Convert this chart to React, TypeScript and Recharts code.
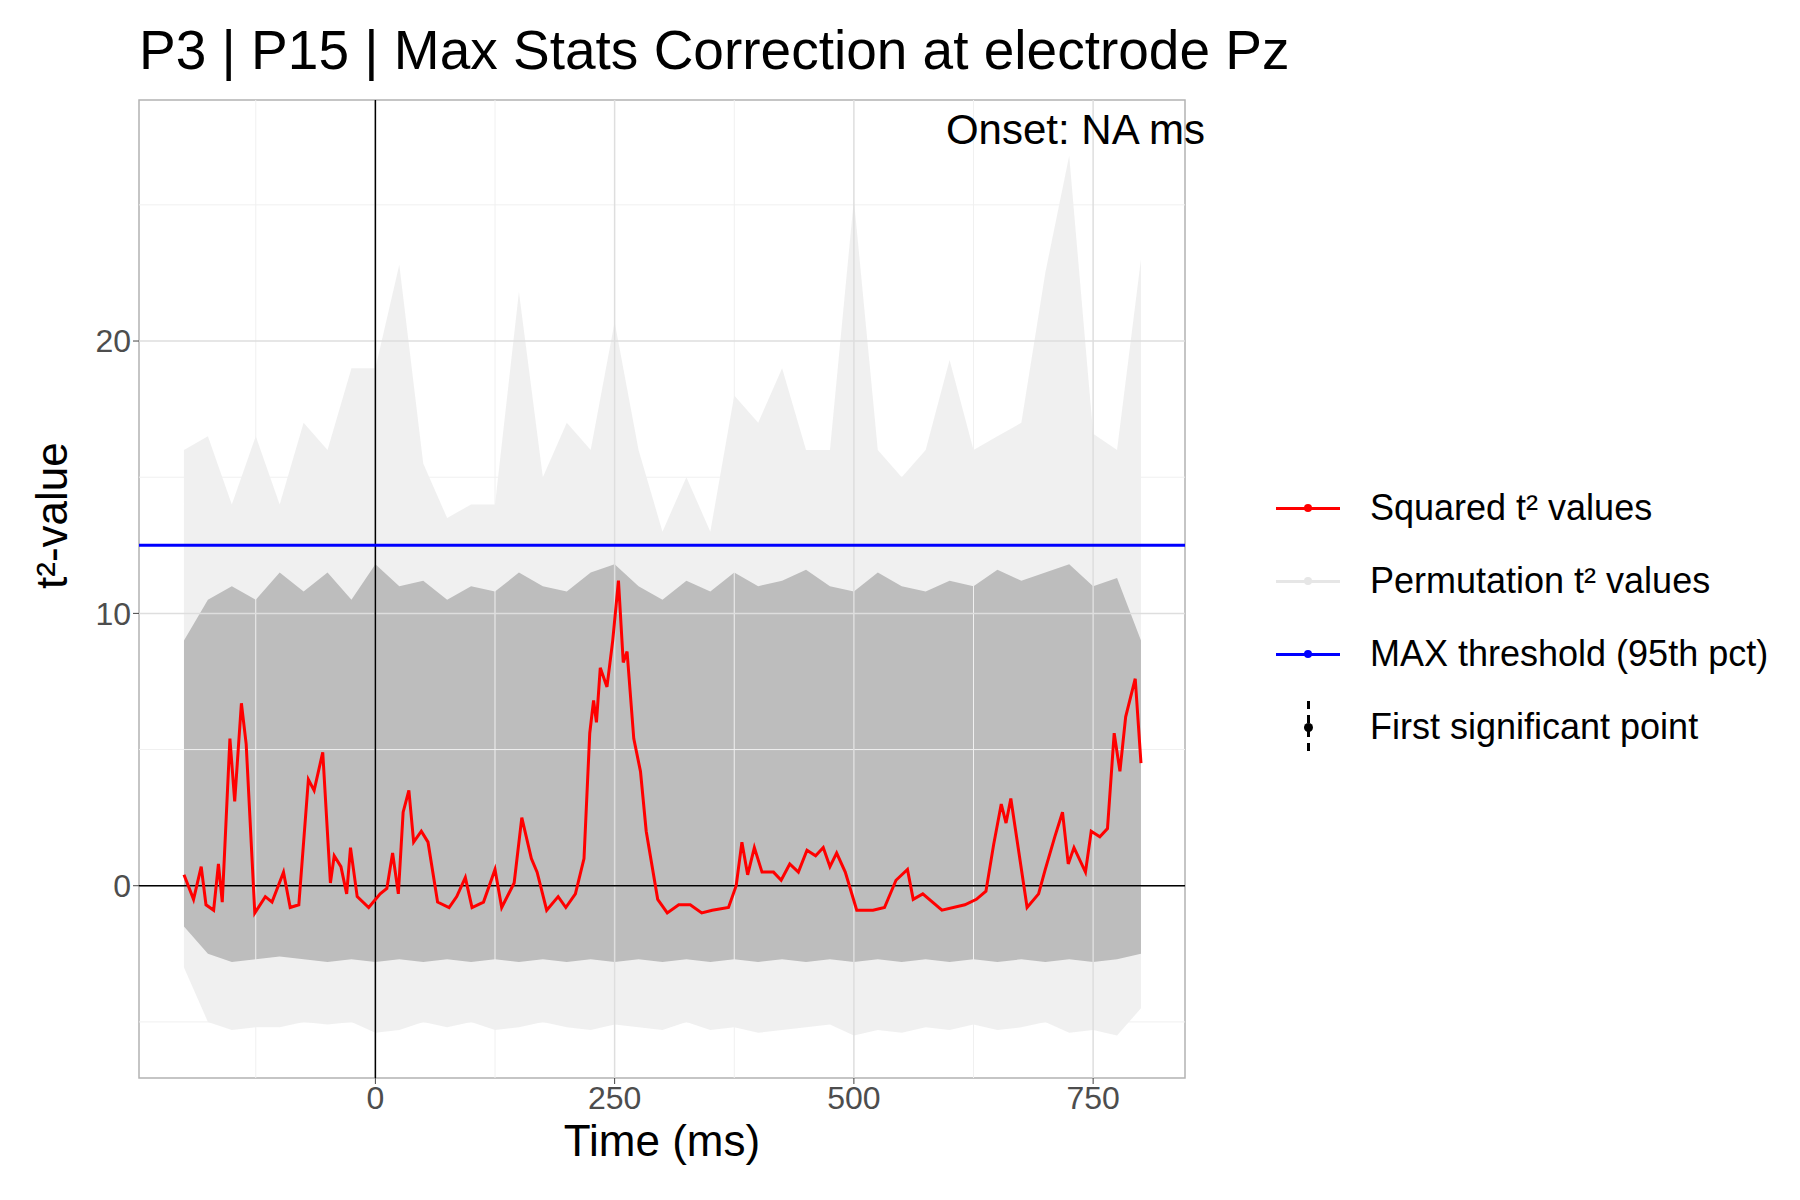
import React from 'react';
import {
  ComposedChart,
  XAxis,
  YAxis,
  Line,
  Area,
  ReferenceLine,
  ReferenceArea,
  Label
} from 'recharts';

// observed squared t values (time in ms)
const redTimes = [-200, -190, -182, -177, -169, -164, -160, -152, -147, -140, -135, -126, -115, -108, -96, -89, -80, -70, -64, -55, -47, -43, -36, -30, -26, -19, -7, 5, 12, 18, 24, 29, 35, 40, 48, 55, 65, 77, 85, 94, 101, 113, 125, 132, 145, 153, 163, 169, 179, 191, 199, 209, 218, 224, 228, 231, 235, 242, 248, 254, 259, 263, 270, 277, 283, 295, 305, 317, 329, 341, 352, 369, 377, 383, 389, 396, 404, 416, 424, 433, 442, 451, 460, 468, 475, 482, 491, 503, 520, 532, 544, 556, 562, 572, 592, 616, 628, 638, 646, 654, 659, 664, 681, 693, 700, 710, 718, 724, 730, 742, 748, 757, 765, 772, 778, 784, 794, 800];
const redValues = [0.4, -0.5, 0.7, -0.7, -0.9, 0.8, -0.6, 5.4, 3.1, 6.7, 5.2, -1, -0.4, -0.6, 0.5, -0.8, -0.7, 3.9, 3.5, 4.9, 0.1, 1.1, 0.7, -0.3, 1.4, -0.4, -0.8, -0.3, -0.1, 1.2, -0.3, 2.7, 3.5, 1.6, 2.0, 1.6, -0.6, -0.8, -0.4, 0.3, -0.8, -0.6, 0.6, -0.8, 0.1, 2.5, 1.0, 0.5, -0.9, -0.4, -0.8, -0.3, 1.0, 5.6, 6.8, 6.0, 8.0, 7.3, 9.0, 11.2, 8.2, 8.6, 5.4, 4.2, 2.0, -0.5, -1.0, -0.7, -0.7, -1.0, -0.9, -0.8, 0, 1.6, 0.4, 1.4, 0.5, 0.5, 0.2, 0.8, 0.5, 1.3, 1.1, 1.4, 0.7, 1.2, 0.5, -0.9, -0.9, -0.8, 0.2, 0.6, -0.5, -0.3, -0.9, -0.7, -0.5, -0.2, 1.5, 3.0, 2.3, 3.2, -0.8, -0.3, 0.6, 1.8, 2.7, 0.8, 1.4, 0.5, 2.0, 1.8, 2.1, 5.6, 4.2, 6.2, 7.6, 4.5];

// permutation envelope (faint outer and dense inner)
const bandTimes = [-200, -175, -150, -125, -100, -75, -50, -25, 0, 25, 50, 75, 100, 125, 150, 175, 200, 225, 250, 275, 300, 325, 350, 375, 400, 425, 450, 475, 500, 525, 550, 575, 600, 625, 650, 675, 700, 725, 750, 775, 800];
const outerLow = [-3, -5, -5.3, -5.2, -5.2, -5, -5.1, -5, -5.4, -5.3, -5, -5.2, -5, -5.3, -5.2, -5, -5.2, -5.3, -5.1, -5.2, -5.3, -5, -5.3, -5.2, -5.4, -5.3, -5.2, -5.1, -5.5, -5.3, -5.4, -5.2, -5.3, -5.1, -5.3, -5.2, -5, -5.4, -5.3, -5.5, -4.5];
const outerHigh = [16, 16.5, 14, 16.5, 14, 17, 16, 19, 19, 22.8, 15.5, 13.5, 14, 14, 21.8, 15, 17, 16, 20.7, 16, 13, 15, 13, 18, 17, 19, 16, 16, 25.2, 16, 15, 16, 19.3, 16, 16.5, 17, 22.5, 26.8, 16.6, 16, 23];
const innerLow = [-1.5, -2.5, -2.8, -2.7, -2.6, -2.7, -2.8, -2.7, -2.8, -2.7, -2.8, -2.7, -2.8, -2.7, -2.8, -2.7, -2.8, -2.7, -2.8, -2.7, -2.8, -2.7, -2.8, -2.7, -2.8, -2.7, -2.8, -2.7, -2.8, -2.7, -2.8, -2.7, -2.8, -2.7, -2.8, -2.7, -2.8, -2.7, -2.8, -2.7, -2.5];
const innerHigh = [9, 10.5, 11, 10.5, 11.5, 10.8, 11.5, 10.5, 11.8, 11, 11.2, 10.5, 11, 10.8, 11.5, 11, 10.8, 11.5, 11.8, 11, 10.5, 11.2, 10.8, 11.5, 11, 11.2, 11.6, 11, 10.8, 11.5, 11, 10.8, 11.2, 11, 11.6, 11.2, 11.5, 11.8, 11, 11.3, 9];

const threshold = 12.5;
const xMajor = [0, 250, 500, 750];
const xMinor = [-125, 125, 375, 625];
const yMajor = [0, 10, 20];
const yMinor = [-5, 5, 15, 25];
const xDomain: [number, number] = [-247, 846];
const yDomain: [number, number] = [-7.06, 28.85];

const redData = redTimes.map((t, i) => ({ t, v: redValues[i] }));
const bandData = bandTimes.map((t, i) => ({
  t,
  outer: [outerLow[i], outerHigh[i]],
  inner: [innerLow[i], innerHigh[i]]
}));

const legendItems = [
  { label: 'Squared t² values', color: '#ff0000' },
  { label: 'Permutation t² values', color: '#e6e6e6' },
  { label: 'MAX threshold (95th pct)', color: '#0000ff' },
  { label: 'First significant point', color: null }
];

const font = 'Arial, "Liberation Sans", sans-serif';

const App: React.FC = () => {
  return (
    <div style={{ position: 'relative', width: 1784, height: 1184, fontFamily: font }}>
      <div style={{ position: 'absolute', left: 131, top: 10, fontSize: 55, color: '#000' }}>
        P3 | P15 | Max Stats Correction at electrode Pz
      </div>
      <ComposedChart
        width={1200}
        height={1180}
        margin={{ top: 92, right: 23, left: 71, bottom: 40 }}
      >
        {xMinor.map((x) => (
          <ReferenceLine key={'xm' + x} x={x} stroke="#f0f0f0" strokeWidth={1} />
        ))}
        {yMinor.map((y) => (
          <ReferenceLine key={'ym' + y} y={y} stroke="#f0f0f0" strokeWidth={1} />
        ))}
        {xMajor.map((x) => (
          <ReferenceLine key={'xM' + x} x={x} stroke="#dedede" strokeWidth={1.5} />
        ))}
        {yMajor.map((y) => (
          <ReferenceLine key={'yM' + y} y={y} stroke="#dedede" strokeWidth={1.5} />
        ))}
        <XAxis
          type="number"
          dataKey="t"
          domain={xDomain}
          ticks={xMajor}
          allowDataOverflow
          height={70}
          tickLine={{ stroke: '#444' }}
          axisLine={false}
          tick={{ fontSize: 32, fill: '#4d4d4d', fontFamily: font }}
        >
          <Label value="Time (ms)" position="insideBottom" offset={-8} fontSize={44} fill="#000" />
        </XAxis>
        <YAxis
          type="number"
          domain={yDomain}
          ticks={yMajor}
          allowDataOverflow
          width={60}
          tickLine={{ stroke: '#444' }}
          axisLine={false}
          tick={{ fontSize: 32, fill: '#4d4d4d', fontFamily: font }}
        >
          <Label value="t²-value" angle={-90} position="insideLeft" dx={-33} fontSize={44} fill="#000" />
        </YAxis>
        <Area
          data={bandData}
          dataKey="outer"
          type="linear"
          stroke="none"
          fill="#e6e6e6"
          fillOpacity={0.6}
          isAnimationActive={false}
        />
        <Area
          data={bandData}
          dataKey="inner"
          type="linear"
          stroke="none"
          fill="#bdbdbd"
          fillOpacity={1}
          isAnimationActive={false}
        />
        <ReferenceLine x={0} stroke="#000" strokeWidth={1.5} />
        <ReferenceLine y={0} stroke="#000" strokeWidth={1.5} />
        <ReferenceLine y={threshold} stroke="#0000ff" strokeWidth={3} />
        <Line
          data={redData}
          dataKey="v"
          type="linear"
          stroke="#ff0000"
          strokeWidth={3}
          dot={false}
          isAnimationActive={false}
        />
        <ReferenceArea
          x1={xDomain[0]}
          x2={xDomain[1]}
          y1={yDomain[0]}
          y2={yDomain[1]}
          fill="none"
          stroke="#b3b3b3"
          strokeWidth={1.5}
        />
      </ComposedChart>
      <div style={{ position: 'absolute', right: 1784 - 1197, top: 98, fontSize: 42, color: '#000', whiteSpace: 'nowrap' }}>
        Onset: NA ms
      </div>
      <div style={{ position: 'absolute', left: 1268, top: 463 }}>
        {legendItems.map((it) => (
          <div key={it.label} style={{ display: 'flex', alignItems: 'center', height: 73 }}>
            <div style={{ width: 64, height: 40, position: 'relative' }}>
              {it.color ? (
                <>
                  <div style={{ position: 'absolute', left: 0, right: 0, top: 19, height: 3, background: it.color }} />
                  <div style={{ position: 'absolute', left: 28, top: 16, width: 8, height: 8, borderRadius: 4, background: it.color }} />
                </>
              ) : (
                <>
                  <div style={{ position: 'absolute', left: 31, top: -6, width: 3, height: 52, background: 'repeating-linear-gradient(#000 0 8px, transparent 8px 14px)' }} />
                  <div style={{ position: 'absolute', left: 28, top: 16, width: 9, height: 9, borderRadius: 5, background: '#000' }} />
                </>
              )}
            </div>
            <div style={{ marginLeft: 30, fontSize: 36, color: '#000' }}>{it.label}</div>
          </div>
        ))}
      </div>
    </div>
  );
};

export default App;
